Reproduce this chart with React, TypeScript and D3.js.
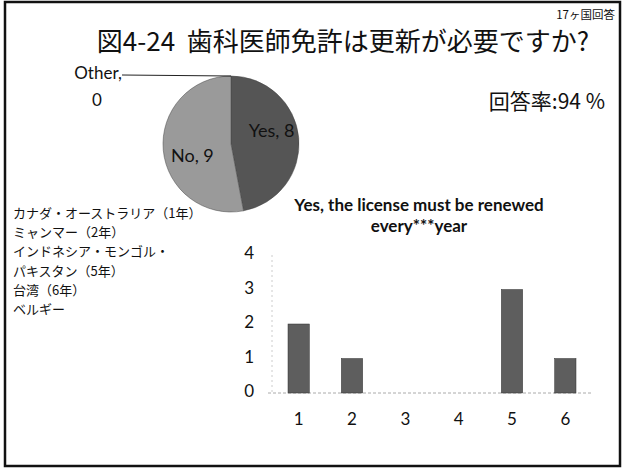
import React from "react";
import * as d3 from "d3";

const pieLabels = ["Other", "Yes", "No"];
const pieValues = [0, 8, 9];
const pieColors = ["#888888", "#555555", "#9a9a9a"];

const barCategories = ["1", "2", "3", "4", "5", "6"];
const barValues = [2, 1, 0, 0, 3, 1];
const yTicks = [0, 1, 2, 3, 4];

const countryLines = [
  "カナダ・オーストラリア（1年）",
  "ミャンマー（2年）",
  "インドネシア・モンゴル・",
  "パキスタン（5年）",
  "台湾（6年）",
  "ベルギー",
];

const JP = "'Noto Sans CJK JP', sans-serif";
const LAT = "Lato, 'Open Sans', sans-serif";

export default function App() {
  const W = 625, H = 468;
  // pie
  const cx = 231, cy = 144, r = 68;
  const pie = d3.pie<number>().sort(null)(pieValues);
  const arc = d3.arc<d3.PieArcDatum<number>>().innerRadius(0).outerRadius(r);
  const labelArc = d3.arc<d3.PieArcDatum<number>>().innerRadius(r * 0.6).outerRadius(r * 0.6);

  // bars
  const x = d3.scaleBand().domain(barCategories).range([272, 592]).paddingInner(0.6).paddingOuter(0.3);
  const y = d3.scaleLinear().domain([0, 4]).range([393, 255]);

  return (
    <svg width={W} height={H} style={{ position: "absolute", left: 0, top: 0 }}>
      <rect x={0} y={0} width={W} height={H} fill="#fff" />
      <rect x={5} y={2} width={615} height={464} fill="none" stroke="#111" strokeWidth={2.5} />
      <text x={615} y={19} textAnchor="end" fontFamily={JP} fontSize={11.5} fill="#111">17ヶ国回答</text>
      <text x={343} y={51} textAnchor="middle" fontFamily={JP} fontSize={26} fill="#111" style={{ whiteSpace: "pre" }}>{"図4-24  歯科医師免許は更新が必要ですか?"}</text>
      <text x={605} y={109} textAnchor="end" fontFamily={JP} fontSize={21} fill="#111">回答率:94 %</text>

      {/* pie */}
      <g transform={`translate(${cx},${cy})`}>
        {pie.map((d, i) => (
          <path key={i} d={arc(d) || ""} fill={pieColors[i]} stroke="#444" strokeWidth={0.5} />
        ))}
        {pie.map((d, i) => {
          if (pieValues[i] === 0) return null;
          const [lx, ly] = labelArc.centroid(d);
          return (
            <text key={"l" + i} x={lx + (i === 1 ? 0 : 2)} y={ly + (i === 1 ? -8 : 10)} textAnchor="middle" dominantBaseline="middle" fontFamily={LAT} fontSize={18} fill="#111">
              {`${pieLabels[i]}, ${pieValues[i]}`}
            </text>
          );
        })}
      </g>
      <line x1={122} y1={75} x2={cx} y2={cy - r} stroke="#222" strokeWidth={1} />
      <text x={98} y={79} textAnchor="middle" fontFamily={LAT} fontSize={17} fill="#111">{`${pieLabels[0]},`}</text>
      <text x={97} y={106} textAnchor="middle" fontFamily={LAT} fontSize={17} fill="#111">{pieValues[0]}</text>

      {/* country list */}
      {countryLines.map((t, i) => (
        <text key={t} x={13} y={218 + i * 19.2} fontFamily={JP} fontSize={13} fill="#111">{t}</text>
      ))}

      {/* bar chart */}
      <text x={419} y={211} textAnchor="middle" fontFamily={LAT} fontWeight="bold" fontSize={17} fill="#111">Yes, the license must be renewed</text>
      <text x={419} y={232} textAnchor="middle" fontFamily={LAT} fontWeight="bold" fontSize={17} fill="#111">every***year</text>
      <line x1={272} y1={y(4)} x2={272} y2={y(0)} stroke="#ccc" strokeWidth={1} strokeDasharray="2,3" />
      <line x1={268} y1={y(0)} x2={592} y2={y(0)} stroke="#aaa" strokeWidth={1} strokeDasharray="3,2" />
      {yTicks.map((t) => (
        <text key={t} x={254} y={y(t)} textAnchor="end" dominantBaseline="middle" fontFamily={LAT} fontSize={17} fill="#111">{t}</text>
      ))}
      {barCategories.map((c, i) => (
        <g key={c}>
          {barValues[i] > 0 && (
            <rect x={x(c)} y={y(barValues[i])} width={x.bandwidth()} height={y(0) - y(barValues[i])} fill="#5e5e5e" stroke="#333" strokeWidth={0.5} />
          )}
          <text x={(x(c) || 0) + x.bandwidth() / 2} y={421} textAnchor="middle" dominantBaseline="middle" fontFamily={LAT} fontSize={17} fill="#111">{c}</text>
        </g>
      ))}
    </svg>
  );
}
